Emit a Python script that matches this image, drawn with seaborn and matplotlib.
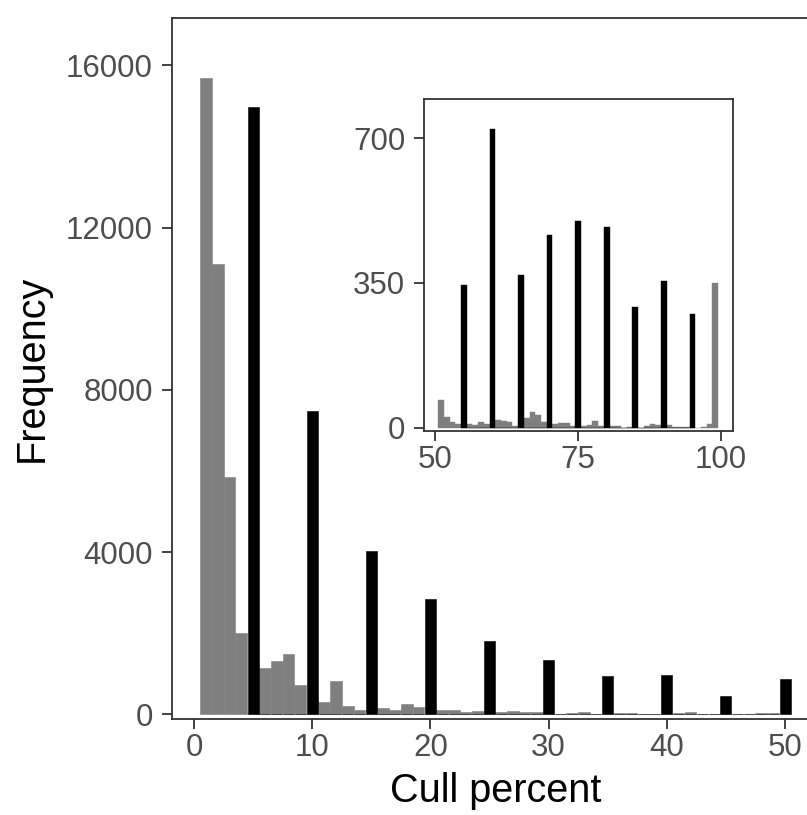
import matplotlib
matplotlib.use("Agg")
import matplotlib.pyplot as plt
import seaborn as sns

# Main panel: cull percent 1-50 (non-multiples of 5 in grey)
main_x = [1, 2, 3, 4, 6, 7, 8, 9, 11, 12, 13, 14, 16, 17, 18, 19,
          21, 22, 23, 24, 26, 27, 28, 29, 31, 32, 33, 34, 36, 37, 38, 39,
          41, 42, 43, 44, 46, 47, 48, 49]
main_n = [15680, 11100, 5840, 2000, 1135, 1320, 1480, 720, 315, 830, 200, 100,
          150, 100, 255, 175, 110, 100, 45, 85, 45, 80, 45, 45, 10, 30, 55, 15,
          25, 25, 10, 10, 30, 60, 0, 0, 0, 0, 20, 20]
# multiples of 5 (black)
round_x = [5, 10, 15, 20, 25, 30, 35, 40, 45, 50]
round_n = [14975, 7480, 4025, 2850, 1815, 1340, 950, 975, 450, 870]

# Inset: cull percent 51-100
inset_x = [51, 52, 53, 54, 56, 57, 58, 59, 61, 62, 63, 64, 66, 67, 68, 69,
           71, 72, 73, 74, 76, 77, 78, 79, 81, 82, 83, 84, 86, 87, 88, 89,
           91, 92, 93, 94, 96, 97, 98, 99]
inset_n = [68, 27, 13, 10, 8, 6, 14, 10, 18, 17, 14, 4, 24, 37, 32, 14,
           8, 12, 12, 4, 4, 6, 16, 4, 4, 4, 0, 2, 0, 4, 8, 6,
           6, 2, 2, 2, 0, 2, 8, 350]
inset_round_x = [55, 60, 65, 70, 75, 80, 85, 90, 95]
inset_round_n = [344, 723, 369, 465, 501, 485, 292, 356, 275]

GREY = "#7F7F7F"
TICK_COL = "#4D4D4D"
LINE_COL = "#333333"

sns.set_style("white")
plt.rcParams["font.family"] = ["Liberation Sans", "DejaVu Sans"]

fig = plt.figure(figsize=(8.07, 8.15), dpi=100)
W, H = 807, 815


def style_axes(ax, xpad, ypad):
    for sp in ax.spines.values():
        sp.set_visible(True)
        sp.set_color(LINE_COL)
        sp.set_linewidth(1.3)
    ax.tick_params(axis="both", which="major", direction="out", length=7.2,
                   width=1.3, color=LINE_COL, labelcolor=TICK_COL, labelsize=22.5,
                   left=True, bottom=True)
    ax.tick_params(axis="x", pad=xpad)
    ax.tick_params(axis="y", pad=ypad)
    ax.grid(False)


# ---- main panel ----
ax = fig.add_axes([172 / W, 96 / H, 648 / W, 701 / H])
sns.histplot(x=main_x, weights=main_n, discrete=True, color=GREY, alpha=1,
             edgecolor=GREY, linewidth=0.4, ax=ax)
sns.histplot(x=round_x, weights=round_n, discrete=True, shrink=0.93, color="black",
             alpha=1, edgecolor="black", linewidth=0.4, ax=ax)
ax.set_xlim(-1.861, 52.96)
ax.set_ylim(-116, 17167)
ax.set_xticks([0, 10, 20, 30, 40, 50])
ax.set_yticks([0, 4000, 8000, 12000, 16000])
ax.set_xlabel("Cull percent", fontsize=28.5, color="black", labelpad=6)
ax.set_ylabel("Frequency", fontsize=28.5, color="black", labelpad=11)
style_axes(ax, 3, 6.5)

# ---- inset ----
ins = fig.add_axes([424.3 / W, (H - 430.7) / H, 309 / W, 331.4 / H])
ins.set_facecolor("white")
sns.histplot(x=inset_x, weights=inset_n, discrete=True, color=GREY, alpha=1,
             edgecolor=GREY, linewidth=0.3, ax=ins)
sns.histplot(x=inset_round_x, weights=inset_round_n, discrete=True, shrink=1.0,
             color="black", alpha=1, edgecolor="black", linewidth=0.3, ax=ins)
ins.set_xlim(48.08, 102.15)
ins.set_ylim(-7, 794)
ins.set_xticks([50, 75, 100])
ins.set_yticks([0, 350, 700])
ins.set_xlabel("")
ins.set_ylabel("")
style_axes(ins, 3, 6.5)

fig.savefig("out.png", dpi=100)
